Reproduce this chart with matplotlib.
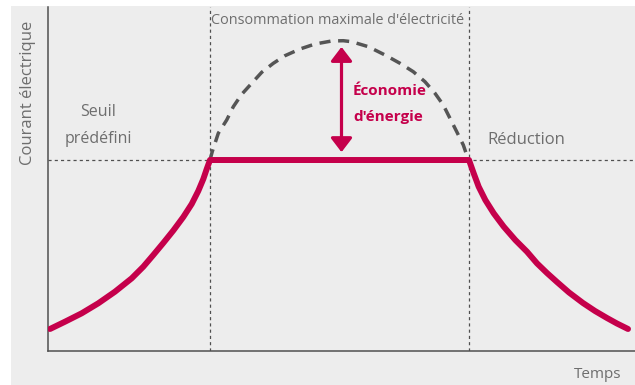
import matplotlib.pyplot as plt
from matplotlib.patches import Rectangle

# current profile with peak-shaving (time and current in arbitrary 0-100 units)
threshold = 55.52
t_start, t_end = 27.60, 71.72

rise_t = [0.34, 2.90, 5.74, 8.57, 11.41, 14.26, 16.24, 17.94, 19.64, 21.35,
          23.05, 24.48, 25.60, 26.46, 27.04, 27.60]
rise_i = [6.40, 8.52, 10.96, 13.87, 17.24, 21.13, 24.51, 27.91, 31.40, 35.03,
          38.95, 42.73, 46.51, 50.00, 52.91, 55.52]

fall_t = [71.72, 72.52, 73.37, 74.50, 75.93, 77.63, 79.61, 81.60, 83.30,
          85.01, 86.71, 88.76, 91.14, 93.19, 95.23, 96.93, 98.81]
fall_i = [55.52, 51.66, 47.76, 43.90, 40.03, 36.16, 32.27, 28.87, 25.49,
          22.67, 20.06, 17.01, 13.95, 11.63, 9.59, 7.99, 6.40]

# unconstrained peak demand
peak_t = [27.60, 27.99, 29.01, 30.44, 31.57, 33.00, 34.70, 36.41, 38.38, 40.37,
          42.93, 45.49, 48.33, 50.31, 51.74, 54.57, 57.41, 59.97, 62.23, 64.22,
          65.93, 67.34, 68.48, 69.63, 70.75, 71.33, 71.72]
peak_i = [55.52, 58.0, 63.29, 67.15, 71.02, 74.62, 77.82, 81.02, 83.63, 85.84,
          87.79, 89.24, 90.12, 90.20, 89.91, 88.46, 86.05, 83.63, 81.19, 78.28,
          74.91, 71.51, 67.65, 63.75, 59.88, 56.98, 55.52]

saving_t = 50.0
saving_top, saving_bottom = 88.4, 57.8

crimson = '#c5004b'
txt_gray = '#6e6e6e'
line_gray = '#505050'
W, H = 635, 385

def fx(px):
    return px / W

def fy(py):
    return 1 - py / H

fig = plt.figure(figsize=(W / 100, H / 100), dpi=100)
fig.patch.set_facecolor('white')
bg = Rectangle((fx(11), 0), 1 - fx(11), fy(6), transform=fig.transFigure,
               facecolor='#ededed', edgecolor='none', zorder=-10)
fig.patches.append(bg)

ax = fig.add_axes([fx(48), fy(351), 1 - fx(48), (351 - 7) / H])
ax.set_facecolor('none')
ax.set_xlim(0, 100)
ax.set_ylim(0, 100)
ax.set_xticks([])
ax.set_yticks([])
for s in ['top', 'right']:
    ax.spines[s].set_visible(False)
for s in ['left', 'bottom']:
    ax.spines[s].set_color(line_gray)
    ax.spines[s].set_linewidth(1.1)

# guide lines
dot = (0, (2.5, 2.5))
ax.axhline(threshold, color=line_gray, lw=0.9, ls=dot, zorder=1)
ax.axvline(t_start, color=line_gray, lw=0.9, ls=dot, zorder=1)
ax.axvline(t_end, color=line_gray, lw=0.9, ls=dot, zorder=1)

# peak demand (dashed)
ax.plot(peak_t, peak_i, color='#555555', lw=2.5, dashes=(3.2, 2.2), zorder=2,
        dash_joinstyle='round')

# actual current with threshold cap
cur_t = rise_t + [t_end] + fall_t[1:]
cur_i = rise_i + [threshold] + fall_i[1:]
ax.plot(cur_t, cur_i, color=crimson, lw=4.3, solid_capstyle='round',
        solid_joinstyle='round', zorder=3)

# energy saving arrow
ax.annotate('', xy=(saving_t, saving_top), xytext=(saving_t, saving_bottom),
            arrowprops=dict(arrowstyle='<|-|>,head_length=0.85,head_width=0.65',
                            color=crimson, lw=2.3, shrinkA=0, shrinkB=0,
                            mutation_scale=10), zorder=4)

font = 'Open Sans'
fig.text(fx(28), fy(93), 'Courant électrique', rotation=90, ha='center', va='center',
         color=txt_gray, fontsize=12, family=font)
fig.text(fx(598), fy(374), 'Temps', ha='center', va='center',
         color=txt_gray, fontsize=11, family=font)
fig.text(fx(338), fy(20), "Consommation maximale d'électricité", ha='center', va='center',
         color=txt_gray, fontsize=10.4, family=font)
fig.text(fx(98), fy(112), 'Seuil', ha='center', va='center',
         color=txt_gray, fontsize=11.5, family=font)
fig.text(fx(98), fy(139), 'prédéfini', ha='center', va='center',
         color=txt_gray, fontsize=11.5, family=font)
fig.text(fx(526), fy(140), 'Réduction', ha='center', va='center',
         color=txt_gray, fontsize=12, family=font)
fig.text(fx(353), fy(91), 'Économie', ha='left', va='center',
         color=crimson, fontsize=11, fontweight='bold', family=font)
fig.text(fx(353), fy(117), "d'énergie", ha='left', va='center',
         color=crimson, fontsize=11, fontweight='bold', family=font)

fig.savefig('out.png', dpi=100)
